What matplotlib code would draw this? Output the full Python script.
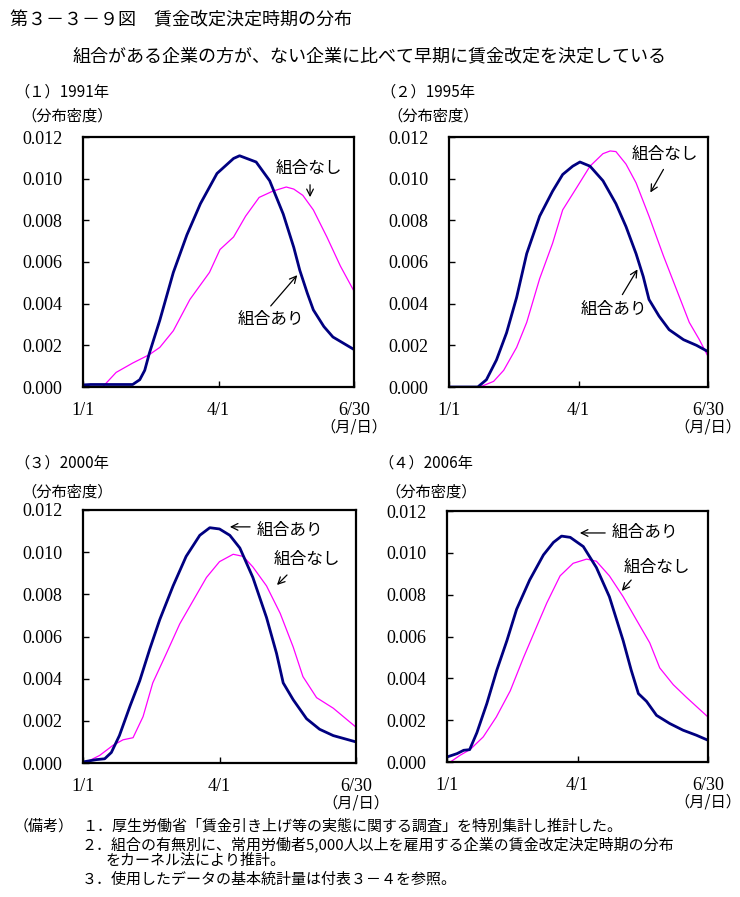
import numpy as np
import matplotlib
matplotlib.use('Agg')
import matplotlib.pyplot as plt

plt.rcParams['font.family'] = ['Noto Sans CJK JP', 'DejaVu Sans']

# day of year from 1/1 (0) to 6/30 (180)
xticks = [0, 90, 180]
xlabels = ['1/1', '4/1', '6/30']
yticks = [0.000, 0.002, 0.004, 0.006, 0.008, 0.010, 0.012]

# (1) 1991
d91_ari = [0, 5, 33, 37.7, 41, 44, 51, 60, 69, 78, 89, 100, 104, 115, 124, 133, 140, 144, 149, 153, 160, 166, 173, 180]
v91_ari = [0.0001, 0.00012, 0.00012, 0.00035, 0.0008, 0.0016, 0.0032, 0.0055, 0.0073, 0.0088, 0.01025, 0.01097,
           0.0111, 0.0108, 0.0099, 0.0083, 0.0067, 0.0056, 0.0045, 0.0037, 0.0029, 0.0024, 0.0021, 0.0018]
d91_nashi = [13, 22, 33, 44, 51, 60, 71, 84, 91, 100, 108, 117, 126, 135, 140, 146, 153, 162, 171, 180]
v91_nashi = [0, 0.0007, 0.00115, 0.00155, 0.0019, 0.0027, 0.0042, 0.0055, 0.0066, 0.0072, 0.0082, 0.0091,
             0.0094, 0.0096, 0.0095, 0.0092, 0.0085, 0.0072, 0.0058, 0.0046]

# (2) 1995
d95_ari = [0, 20, 26, 33, 40, 47, 54, 63, 72, 79, 86, 91, 98, 107, 116, 123, 130, 135, 139, 146, 153, 163, 172, 180]
v95_ari = [0, 0, 0.00035, 0.0013, 0.0026, 0.0043, 0.0064, 0.0082, 0.0094, 0.0102, 0.0106, 0.0108, 0.0106,
           0.0099, 0.0088, 0.0077, 0.0064, 0.0053, 0.0042, 0.0034, 0.00275, 0.00227, 0.0020, 0.0017]
d95_nashi = [21.5, 31, 38, 47, 54, 63, 72, 79, 89, 98, 107, 112, 116, 123, 130, 139, 149, 158, 167, 174, 180]
v95_nashi = [0, 0.00027, 0.0008, 0.0019, 0.0031, 0.0052, 0.0069, 0.0085, 0.0096, 0.0106, 0.0112, 0.01133,
             0.0113, 0.0107, 0.0098, 0.0082, 0.0063, 0.0047, 0.0031, 0.00227, 0.00147]

# (3) 2000
d00_ari = [0, 8.8, 14.3, 18.7, 24, 31, 37.4, 44, 50.6, 59.4, 68, 77, 83.6, 90, 96.8, 103.4, 112, 121, 127.6,
           132, 138.6, 147.4, 156, 165, 180]
v00_ari = [0.00005, 0.00016, 0.0002, 0.0005, 0.0013, 0.0027, 0.0039, 0.0054, 0.0068, 0.0084, 0.0098, 0.0108,
           0.01116, 0.0111, 0.0108, 0.0102, 0.0088, 0.0069, 0.0052, 0.0038, 0.003, 0.0021, 0.0016, 0.0013, 0.001]
d00_nashi = [1, 11, 19.8, 26.4, 33, 39.6, 46, 55, 63.8, 72.6, 81.4, 90, 99, 105.6, 112, 121, 130, 138.6, 145,
             154, 165, 180]
v00_nashi = [0, 0.00036, 0.00084, 0.0011, 0.0012, 0.0022, 0.0038, 0.0052, 0.0066, 0.0077, 0.0088, 0.00955,
             0.0099, 0.0098, 0.0093, 0.0084, 0.0071, 0.0055, 0.0041, 0.0031, 0.0026, 0.0017]

# (4) 2006
d06_ari = [0, 6.9, 11.5, 15.6, 20.6, 27.5, 34.4, 41.3, 48, 57, 66.5, 73.4, 79, 85, 94, 103, 112, 121.5, 127,
           132, 137.6, 144.5, 153.6, 162.8, 172, 180]
v06_ari = [0.00024, 0.0004, 0.00056, 0.00059, 0.0014, 0.0028, 0.0044, 0.0058, 0.0073, 0.0087, 0.0099, 0.0105,
           0.0108, 0.01074, 0.0103, 0.0093, 0.0079, 0.0058, 0.0044, 0.00327, 0.0029, 0.00223, 0.00184, 0.00152,
           0.00128, 0.00104]
d06_nashi = [2.3, 9, 16, 25, 34, 43.6, 52.8, 62, 68.8, 78, 87, 96.3, 103, 112, 121.5, 130.6, 139.8, 146.7,
             156, 165, 180]
v06_nashi = [0, 0.00032, 0.0006, 0.0012, 0.00215, 0.0034, 0.005, 0.0065, 0.0076, 0.0089, 0.0095, 0.0097,
             0.0096, 0.0089, 0.0079, 0.0068, 0.0057, 0.0045, 0.0037, 0.0031, 0.00215]

titles = ['（１）1991年', '（２）1995年', '（３）2000年', '（４）2006年']

W, H = 740, 897
fig = plt.figure(figsize=(W / 100, H / 100), dpi=100)


def fx(px):
    return px / W


def fy(py):
    return 1 - py / H


# panel boxes in pixels: left, top, right, bottom
boxes = [(83, 137, 354, 387), (449, 137, 708, 387), (83, 510, 356, 763), (447, 511, 708, 762)]
series = [(d91_ari, v91_ari, d91_nashi, v91_nashi),
          (d95_ari, v95_ari, d95_nashi, v95_nashi),
          (d00_ari, v00_ari, d00_nashi, v00_nashi),
          (d06_ari, v06_ari, d06_nashi, v06_nashi)]

# label text position, arrow tail, arrow head (data coords) for 組合あり / 組合なし
notes_ari = [((125, 0.00322), (123.5, 0.00379), (143.5, 0.00547)),
             ((114.7, 0.0037), (119.5, 0.00432), (132, 0.00576)),
             ((136.5, 0.01105), (112, 0.0112), (95, 0.0112)),
             ((136.6, 0.01095), (111, 0.01095), (89.7, 0.01095))]
notes_nashi = [((150, 0.0105), (150.8, 0.00984), (150.8, 0.00898)),
               ((150, 0.01114), (150, 0.01056), (139, 0.00922)),
               ((147.7, 0.00963), (135.8, 0.00901), (126.6, 0.00835)),
               ((144.8, 0.00932), (128.3, 0.0088), (119.3, 0.00808))]

for i, (l, t, r, b) in enumerate(boxes):
    ax = fig.add_axes([fx(l), fy(b), fx(r - l), (b - t) / H])
    da, va, dn, vn = series[i]
    ax.plot(dn, vn, color='#FF00FF', lw=0.9)
    ax.plot(da, va, color='#000080', lw=2.0)
    ax.set_xlim(0, 180)
    ax.set_ylim(0, 0.012)
    ax.set_xticks(xticks)
    ax.set_xticklabels(xlabels)
    ax.set_yticks(yticks)
    ax.set_yticklabels(['%.3f' % v for v in yticks])
    ax.tick_params(direction='in', length=4, width=1, colors='black')
    ax.tick_params(axis='y', pad=15)
    ax.tick_params(axis='x', pad=11)
    for lab in ax.get_xticklabels() + ax.get_yticklabels():
        lab.set_family('Liberation Serif')
        lab.set_fontsize(13)
    for s in ax.spines.values():
        s.set_linewidth(1.6)

    for (txt, (tpos, tail, head)) in [('組合あり', notes_ari[i]), ('組合なし', notes_nashi[i])]:
        ax.annotate('', xy=head, xytext=tail,
                    arrowprops=dict(arrowstyle='->', color='black', lw=0.9, mutation_scale=12))
        ax.text(tpos[0], tpos[1], txt, ha='center', va='center', fontsize=12)

    # panel title, y unit and x unit
    top = 92 if i < 2 else 463
    fig.text(fx(l - 69), fy(top), titles[i], fontsize=11, va='center', ha='left')
    fig.text(fx(l - 62), fy(top + 24 if i < 2 else top + 29), '（分布密度）', fontsize=11, va='center', ha='left')
    fig.text(fx(r), fy(b + 40), '（月/日）', fontsize=11, va='center', ha='center')

fig.text(fx(10), fy(20), '第３－３－９図　賃金改定決定時期の分布', fontsize=13, va='center', ha='left')
fig.text(fx(370), fy(56), '組合がある企業の方が、ない企業に比べて早期に賃金改定を決定している',
         fontsize=13, va='center', ha='center')

note_size = 10.8
fig.text(fx(14), fy(826), '（備考）', fontsize=note_size, va='center', ha='left')
fig.text(fx(82), fy(826), '１．厚生労働省「賃金引き上げ等の実態に関する調査」を特別集計し推計した。',
         fontsize=note_size, va='center', ha='left')
fig.text(fx(82), fy(844), '２．組合の有無別に、常用労働者5,000人以上を雇用する企業の賃金改定決定時期の分布',
         fontsize=note_size, va='center', ha='left')
fig.text(fx(106), fy(861), 'をカーネル法により推計。', fontsize=note_size, va='center', ha='left')
fig.text(fx(82), fy(880), '３．使用したデータの基本統計量は付表３－４を参照。', fontsize=note_size, va='center', ha='left')

fig.savefig('out.png', dpi=100, facecolor='white')
